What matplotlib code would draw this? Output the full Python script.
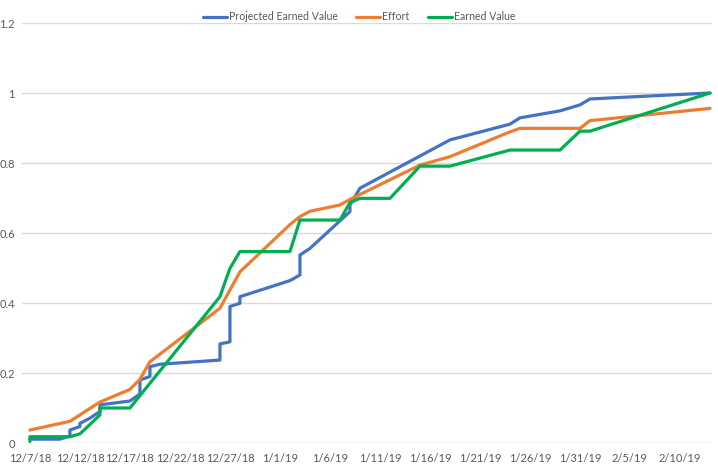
import matplotlib
matplotlib.use("Agg")
import matplotlib.pyplot as plt
import pandas as pd

plt.rcParams['font.family'] = ['Lato', 'DejaVu Sans']

pev_dates = ["2018-12-07", "2018-12-10", "2018-12-11", "2018-12-11", "2018-12-12", "2018-12-12",
             "2018-12-13", "2018-12-14", "2018-12-14", "2018-12-17", "2018-12-18", "2018-12-18",
             "2018-12-19", "2018-12-19", "2018-12-20", "2018-12-26", "2018-12-26", "2018-12-27",
             "2018-12-27", "2018-12-28", "2018-12-28", "2019-01-02", "2019-01-03", "2019-01-03",
             "2019-01-04", "2019-01-08", "2019-01-08", "2019-01-09", "2019-01-18", "2019-01-24",
             "2019-01-25", "2019-01-29", "2019-01-31", "2019-02-01", "2019-02-13"]
pev_values = [0.011, 0.011, 0.02, 0.037, 0.047, 0.056,
              0.071, 0.09, 0.109, 0.12, 0.14, 0.18,
              0.19, 0.218, 0.225, 0.237, 0.283, 0.289,
              0.39, 0.399, 0.418, 0.464, 0.48, 0.537,
              0.556, 0.661, 0.68, 0.728, 0.866, 0.911,
              0.929, 0.949, 0.966, 0.983, 1.0]

effort_dates = ["2018-12-07", "2018-12-11", "2018-12-14", "2018-12-17", "2018-12-18", "2018-12-19",
                "2018-12-26", "2018-12-28", "2019-01-02", "2019-01-03", "2019-01-04", "2019-01-07",
                "2019-01-08", "2019-01-15", "2019-01-18", "2019-01-24", "2019-01-25", "2019-01-31",
                "2019-02-01", "2019-02-13"]
effort_values = [0.037, 0.062, 0.117, 0.153, 0.182, 0.232,
                 0.385, 0.489, 0.624, 0.647, 0.662, 0.68,
                 0.696, 0.794, 0.818, 0.889, 0.899, 0.899,
                 0.921, 0.956]

ev_dates = ["2018-12-07", "2018-12-07", "2018-12-11", "2018-12-12", "2018-12-14", "2018-12-14",
            "2018-12-17", "2018-12-26", "2018-12-27", "2018-12-28", "2019-01-02", "2019-01-03",
            "2019-01-07", "2019-01-08", "2019-01-09", "2019-01-12", "2019-01-15", "2019-01-18",
            "2019-01-24", "2019-01-29", "2019-01-31", "2019-02-01", "2019-02-13"]
ev_values = [0.004, 0.018, 0.018, 0.026, 0.08, 0.10,
             0.10, 0.418, 0.499, 0.547, 0.547, 0.637,
             0.637, 0.687, 0.699, 0.699, 0.791, 0.791,
             0.837, 0.837, 0.891, 0.891, 1.0]

y_ticks = [0, 0.2, 0.4, 0.6, 0.8, 1.0, 1.2]
y_labels = ["0", "0.2", "0.4", "0.6", "0.8", "1", "1.2"]

fig = plt.figure(figsize=(7.18, 4.66), dpi=100)
ax = fig.add_axes([22/718, 1-443/466, (712-22)/718, (443-23)/466])

series = [
    ("Projected Earned Value", pev_dates, pev_values, "#4472C4"),
    ("Effort", effort_dates, effort_values, "#ED7D31"),
    ("Earned Value", ev_dates, ev_values, "#00B050"),
]
for name, d, v, c in series:
    ax.plot(pd.to_datetime(d), v, color=c, lw=2.3, label=name,
            solid_joinstyle='round', solid_capstyle='round')

start = pd.Timestamp("2018-12-07")
ax.set_xlim(start - pd.Timedelta(hours=19), start + pd.Timedelta(days=68.2))
ax.set_ylim(0, 1.2)
ticks = pd.date_range("2018-12-07", "2019-02-10", freq="5D")
ax.set_xticks(ticks)
ax.set_xticklabels([f"{t.month}/{t.day}/{t.strftime('%y')}" for t in ticks])
ax.set_yticks(y_ticks)
ax.set_yticklabels(y_labels)
ax.tick_params(axis='both', length=0, labelsize=8, colors="#595959")
ax.tick_params(axis='x', pad=7)
ax.tick_params(axis='y', pad=5)
ax.grid(axis='y', color="#d9d9d9", lw=1)
ax.set_axisbelow(True)
for s in ax.spines.values():
    s.set_visible(False)

leg = fig.legend(loc='center', bbox_to_anchor=(0.5, 1-17/466), ncol=3, frameon=False,
                 fontsize=7.6, handlelength=2.3, columnspacing=1.7, handletextpad=0.2)
for t in leg.get_texts():
    t.set_color("#595959")

fig.savefig("out.png", dpi=100)
